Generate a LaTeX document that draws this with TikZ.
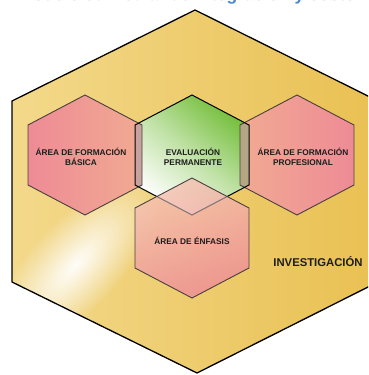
\documentclass[tikz,border=0pt]{standalone}
\usepackage{fontspec}
\setmainfont{Liberation Sans}
\usetikzlibrary{fadings}
\definecolor{outerA}{HTML}{F3D98B}
\definecolor{outerB}{HTML}{E9C052}
\definecolor{pinkA}{HTML}{EE8B96}
\definecolor{pinkB}{HTML}{F1AA92}
\definecolor{greenA}{HTML}{74BE3A}
\definecolor{hexline}{HTML}{4A3F3C}
\definecolor{titleblue}{HTML}{4A88CF}
\definecolor{txt}{HTML}{1E1E1E}
\definecolor{stripL}{HTML}{C7A29E}
\definecolor{stripR}{HTML}{B4A585}
\tikzfading[name=glow, inner color=transparent!0, outer color=transparent!100]
\tikzset{
  lab/.style={font=\fontsize{8.3}{9.5}\selectfont\bfseries, text=txt, align=center, inner sep=0pt},
  inner hex/.style={draw=hexline, line width=0.9pt, line join=miter}
}
\newcommand{\hexpath}[2]{(#1,#2-60) -- (#1+57,#2-30) -- (#1+57,#2+30) -- (#1,#2+60) -- (#1-57,#2+30) -- (#1-57,#2-30) -- cycle}
\newcommand{\outerpath}{(195,10) -- (378,101) -- (378,282) -- (197,373) -- (12,282) -- (12,101) -- cycle}
\begin{document}
\begin{tikzpicture}[x=1pt,y=-1pt]
\useasboundingbox (0,0) rectangle (368,375);
\clip (0,0) rectangle (368,375);
\fill[white] (0,0) rectangle (368,375);
% partial title line (cut at the top)
\node[anchor=base west, inner sep=0pt, text=titleblue, font=\fontsize{17.5}{17.5}\selectfont\bfseries] (title) at (-4,0) {El modelo curricular de integración y sostenibilidad};
% outer hexagon
\path[left color=outerA, right color=outerB] \outerpath;
\begin{scope}
\clip \outerpath;
\begin{scope}[transform canvas={rotate around={47:(75,265)}}]
\fill[white, opacity=0.95, path fading=glow] (75,265) ellipse (115 and 45);
\end{scope}
\end{scope}
\draw[black, line width=1.3pt, line join=miter] \outerpath;
% pink hexagons left/right
\path[left color=pinkA, right color=pinkB] \hexpath{85}{155};
\path[left color=pinkB, right color=pinkA] \hexpath{297}{155};
% green hexagon
\path[shading=axis, bottom color=white, top color=greenA, middle color=greenA!45!white, shading angle=-40] \hexpath{192}{155};
% overlaps of top row
\begin{scope}
\clip \hexpath{85}{155};
\fill[stripL] \hexpath{192}{155};
\end{scope}
\begin{scope}
\clip \hexpath{297}{155};
\fill[stripR] \hexpath{192}{155};
\end{scope}
\draw[inner hex] \hexpath{85}{155};
\draw[inner hex] \hexpath{297}{155};
\draw[black, line width=1pt] \hexpath{192}{155};
% bottom hexagon (translucent)
\path[shading=axis, top color=pinkB!70!white, bottom color=pinkA, shading angle=20, opacity=0.82] \hexpath{192}{238};
\begin{scope}
\clip \hexpath{192}{238};
\draw[hexline!70, line width=0.9pt] \hexpath{192}{155};
\end{scope}
\draw[inner hex] \hexpath{192}{238};
% labels
\node[lab] (basica) at (81,157) {ÁREA DE FORMACIÓN\\BÁSICA};
\node[lab] (eval) at (193,157) {EVALUACIÓN\\PERMANENTE};
\node[lab] (prof) at (303,157) {ÁREA DE FORMACIÓN\\PROFESIONAL};
\node[lab] (enfasis) at (192,241) {ÁREA DE ÉNFASIS};
\node[lab, font=\fontsize{11.3}{12}\selectfont\bfseries] (inv) at (318,262) {INVESTIGACIÓN};
\end{tikzpicture}
\end{document}
